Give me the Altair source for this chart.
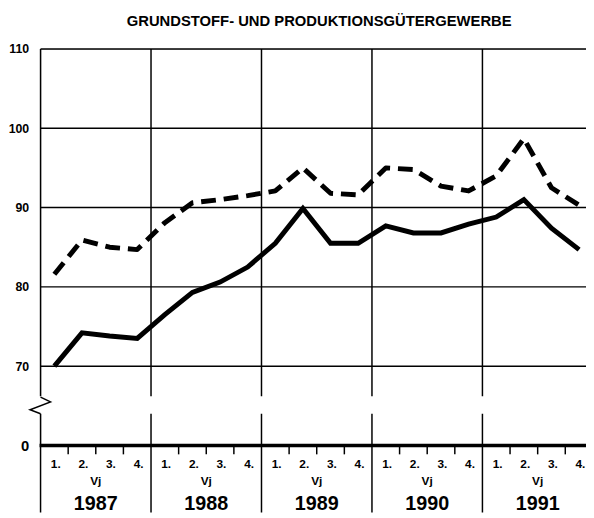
import altair as alt
import pandas as pd

# ---------------- data ----------------
years = ["1987", "1988", "1989", "1990", "1991"]
quarter_labels = ["1.", "2.", "3.", "4."]
period_label = "Vj"
title_text = "GRUNDSTOFF- UND PRODUKTIONSGÜTERGEWERBE"

solid_values = [70.0, 74.2, 73.8, 73.5,
                76.5, 79.3, 80.6, 82.5,
                85.5, 89.9, 85.5, 85.5,
                87.7, 86.8, 86.8, 87.9,
                88.8, 91.0, 87.4, 84.7]
dashed_values = [81.6, 85.9, 85.0, 84.7,
                 88.1, 90.6, 91.0, 91.5,
                 92.1, 95.0, 91.8, 91.6,
                 95.0, 94.8, 92.7, 92.1,
                 94.0, 98.7, 92.5, 90.3]

grid_values = [70, 80, 90, 100, 110]
axis_values = [60, 70, 80, 90, 100, 110]   # 60 is drawn as the "0" below the axis break

# ---------------- tables ----------------
n = len(solid_values)
df = pd.DataFrame({
    "q": [i + 0.5 for i in range(n)],
    "solid": solid_values,
    "dashed": dashed_values,
})
df_grid = pd.DataFrame({"v": grid_values})
df_years = pd.DataFrame({"b": [4 * i for i in range(len(years))]})
df_ticks = pd.DataFrame({"b": [i for i in range(1, 4 * len(years)) if i % 4 != 0]})
df_qlab = pd.DataFrame({
    "q": [i + 0.55 for i in range(4 * len(years))],
    "lab": [quarter_labels[i % 4] for i in range(4 * len(years))],
})
df_ylab = pd.DataFrame({
    "c": [4 * i + 2 for i in range(len(years))],
    "year": years,
    "vj": [period_label] * len(years),
})
df_break = pd.DataFrame({"top": [66.2], "bot": [64.0]})
df_zig = pd.DataFrame({"zx": [0, 0.36, -0.38, 0], "zy": [66.1, 65.5, 64.5, 64.0], "o": [0, 1, 2, 3]})
df_zero = pd.DataFrame({"v": [60]})

# ---------------- layout ----------------
W, H = 553, 402
FONT = "Liberation Sans"
xs = alt.Scale(domain=[0, W / 28], nice=False, zero=False)
ys = alt.Scale(domain=[60, 110], nice=False, zero=False)

grid = alt.Chart(df_grid).mark_rule(color="black", strokeWidth=1.5).encode(
    y=alt.Y("v:Q", scale=ys, title=None,
            axis=alt.Axis(values=axis_values, domain=False, ticks=False, grid=False,
                          labelExpr="datum.value == 60 ? '0' : datum.label",
                          labelFont=FONT, labelColor="black",
                          labelPadding=12,
                          labelFontSize={"condition": {"test": "datum.value == 60", "value": 15},
                                         "value": 12.5},
                          labelFontWeight="bold")),
    x=alt.value(0), x2=alt.value(W),
)

year_lines = alt.Chart(df_years).mark_rule(color="black", strokeWidth=1.5).encode(
    x=alt.X("b:Q", scale=xs, axis=None), y=alt.value(0), y2=alt.value(470),
)

gap = alt.Chart(df_break).mark_rect(color="white").encode(
    y=alt.Y("top:Q", scale=ys), y2="bot", x=alt.value(-2), x2=alt.value(W),
)

zig = alt.Chart(df_zig).mark_line(color="black", strokeWidth=1.5).encode(
    x=alt.X("zx:Q", scale=xs, axis=None), y=alt.Y("zy:Q", scale=ys), order="o:Q",
)

zero_line = alt.Chart(df_zero).mark_rule(color="black", strokeWidth=3.5).encode(
    y=alt.Y("v:Q", scale=ys), x=alt.value(-1), x2=alt.value(W),
)

qticks = alt.Chart(df_ticks).mark_rule(color="black", strokeWidth=1.5).encode(
    x=alt.X("b:Q", scale=xs, axis=None), y=alt.value(H), y2=alt.value(H + 9),
)

qlab = alt.Chart(df_qlab).mark_text(font=FONT, fontSize=12, fontWeight="bold",
                                    baseline="middle", color="black").encode(
    x=alt.X("q:Q", scale=xs, axis=None), y=alt.value(421), text="lab:N",
)

vjlab = alt.Chart(df_ylab).mark_text(font=FONT, fontSize=12, fontWeight="bold",
                                     baseline="middle", color="black").encode(
    x=alt.X("c:Q", scale=xs, axis=None), y=alt.value(438), text="vj:N",
)

yearlab = alt.Chart(df_ylab).mark_text(font=FONT, fontSize=20, fontWeight="bold",
                                       baseline="middle", color="black").encode(
    x=alt.X("c:Q", scale=xs, axis=None), y=alt.value(461), text="year:N",
)

line_dashed = alt.Chart(df).mark_line(color="black", strokeWidth=5, strokeDash=[15, 8],
                                      strokeCap="butt", strokeJoin="round").encode(
    x=alt.X("q:Q", scale=xs, axis=None), y=alt.Y("dashed:Q", scale=ys),
)
line_solid = alt.Chart(df).mark_line(color="black", strokeWidth=5, strokeJoin="miter").encode(
    x=alt.X("q:Q", scale=xs, axis=None), y=alt.Y("solid:Q", scale=ys),
)

chart = alt.layer(
    grid, year_lines, gap, zig, zero_line, qticks, qlab, vjlab, yearlab,
    line_dashed, line_solid,
).properties(
    width=W, height=H,
    title=alt.TitleParams(title_text, font=FONT, fontSize=15, fontWeight="bold",
                          anchor="middle", dx=6, offset=14, color="black"),
    autosize=alt.AutoSizeParams(type="none"),
    padding={"left": 33, "top": 38, "right": 0, "bottom": 70},
).configure_view(stroke=None).configure(background="white")

chart.save("out.html", embed_options={"renderer": "svg", "actions": False})
